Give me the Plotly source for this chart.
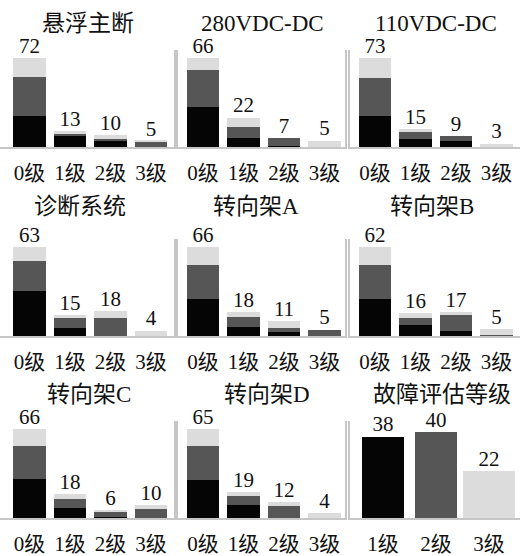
import plotly.graph_objects as go

# ---------------- data ----------------
categories = ["0级", "1级", "2级", "3级"]
panel_titles = ["悬浮主断", "280VDC-DC", "110VDC-DC",
                "诊断系统", "转向架A", "转向架B",
                "转向架C", "转向架D"]
black_vals = [
    [25, 9, 5, 0],
    [30, 7, 1, 0],
    [26, 7, 5, 0],
    [32, 6, 0, 0],
    [28, 7, 3, 0],
    [26, 8, 4, 0],
    [29, 8, 1, 0],
    [28, 10, 0, 0],
]
dark_vals = [
    [32, 2, 2, 4],
    [27, 8, 6, 0],
    [31, 6, 4, 0],
    [21, 7, 13, 0],
    [25, 7, 3, 5],
    [24, 5, 11, 1],
    [25, 6, 4, 7],
    [25, 6, 9, 0],
]
light_vals = [
    [15, 2, 3, 1],
    [9, 7, 0, 5],
    [16, 2, 0, 3],
    [10, 2, 5, 4],
    [13, 4, 5, 0],
    [12, 3, 2, 4],
    [12, 4, 1, 3],
    [12, 3, 3, 4],
]
summary_title = "故障评估等级"
summary_categories = ["1级", "2级", "3级"]
summary_values = [38, 40, 22]

# ---------------- style ----------------
W, H = 525, 556
C_BLACK, C_DARK, C_LIGHT = "#050505", "#565656", "#dcdcdc"
LINE_C = "#c6c6c6"
TXT_C = "#111111"
FONT = "Liberation Serif, Noto Sans CJK SC, serif"

col_px = [(0, 174), (178, 345), (350, 520)]
row_base = [149, 340, 524]
row_top = [51, 242, 426]
col_first_center = [29.5, 25, 25]
spacing = 40.5

title_pos = [(88, 24), (262, 24), (436, 24),
             (80, 209), (256, 209), (432, 209),
             (89, 399), (267, 399), (442, 399)]

fig = go.Figure()
layout = dict(width=W, height=H, margin=dict(l=0, r=0, t=0, b=0),
              paper_bgcolor="white", plot_bgcolor="white",
              showlegend=False, barmode="stack", bargap=0.2,
              font=dict(family=FONT, color=TXT_C))
annotations = []

def px_x(a, b):
    return [a / W, b / W]

def px_y(top, base):
    return [1 - base / H, 1 - top / H]

for i in range(9):
    r, c = divmod(i, 3)
    n = i + 1
    xa = "x" if n == 1 else f"x{n}"
    ya = "y" if n == 1 else f"y{n}"
    a, b = col_px[c]
    if i < 8:
        cats = categories
        blk, drk, lgt = black_vals[i], dark_vals[i], light_vals[i]
        totals = [p + q + s for p, q, s in zip(blk, drk, lgt)]
        for vals, col in ((blk, C_BLACK), (drk, C_DARK), (lgt, C_LIGHT)):
            fig.add_trace(go.Bar(x=cats, y=vals, marker=dict(color=col, line=dict(width=0)),
                                 width=0.8, xaxis=xa, yaxis=ya, hoverinfo="skip"))
        r0 = -col_first_center[c] / spacing
        r1 = r0 + (b - a) / spacing
        ymax = max(totals) * 98 / 90
        txt_y = totals
    else:
        cats = summary_categories
        fig.add_trace(go.Bar(x=cats, y=summary_values,
                             marker=dict(color=[C_BLACK, C_DARK, C_LIGHT], line=dict(width=0)),
                             width=[0.8, 0.8, 0.98], xaxis=xa, yaxis=ya, hoverinfo="skip"))
        sp = 53
        r0 = -33 / sp
        r1 = r0 + (b - a) / sp
        ymax = max(summary_values) * 98 / 87
        txt_y = summary_values
    fig.add_trace(go.Scatter(x=cats, y=txt_y, mode="text", text=[str(v) for v in txt_y],
                             textposition="top center", cliponaxis=False,
                             textfont=dict(family=FONT, size=21, color=TXT_C),
                             xaxis=xa, yaxis=ya, hoverinfo="skip"))

    xkey = "xaxis" if n == 1 else f"xaxis{n}"
    ykey = "yaxis" if n == 1 else f"yaxis{n}"
    layout[xkey] = dict(domain=px_x(a, b), anchor=ya, type="category",
                        range=[r0, r1], showline=True, linecolor=LINE_C, linewidth=2,
                        showgrid=False, zeroline=False, ticks="",
                        tickfont=dict(family=FONT, size=21, color=TXT_C),
                        ticklabelstandoff=5, fixedrange=True)
    ydict = dict(domain=px_y(row_top[r], row_base[r]), anchor=xa,
                 range=[0, ymax], showgrid=False, zeroline=False,
                 showticklabels=False, ticks="", showline=True,
                 linecolor=LINE_C, linewidth=1.5, fixedrange=True)
    if c == 0:
        ydict["side"] = "right"
    elif c == 1:
        ydict["mirror"] = True
    layout[ykey] = ydict

    title = panel_titles[i] if i < 8 else summary_title
    tx, ty = title_pos[i]
    annotations.append(dict(text=title, x=tx / W, y=1 - ty / H, xref="paper", yref="paper",
                            xanchor="center", yanchor="middle", showarrow=False,
                            font=dict(family=FONT, size=23, color=TXT_C)))

layout["annotations"] = annotations
fig.update_layout(**layout)
fig.write_html("out.html", config={"displayModeBar": False},
               post_script="document.body.style.margin='0';document.body.style.overflow='hidden';")
